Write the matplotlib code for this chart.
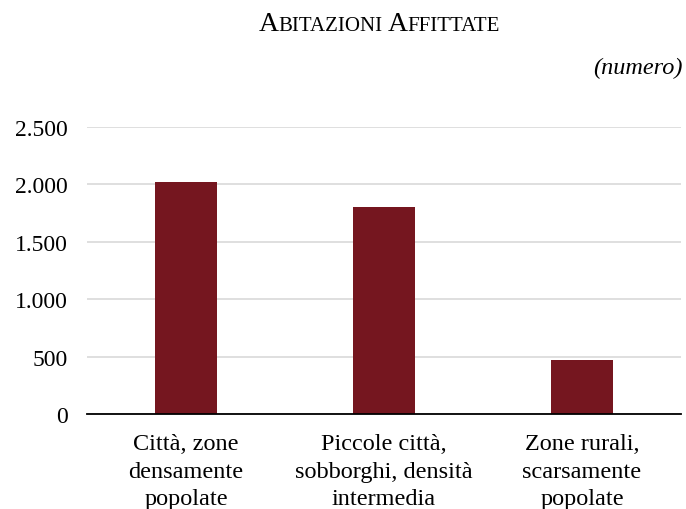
import matplotlib
matplotlib.use("Agg")
import matplotlib.pyplot as plt
from matplotlib.ticker import FuncFormatter

# dati
categorie = ["Città, zone\ndensamente\npopolate",
             "Piccole città,\nsobborghi, densità\nintermedia",
             "Zone rurali,\nscarsamente\npopolate"]
valori = [2021, 1803, 470]
tick_y = [0, 500, 1000, 1500, 2000, 2500]

plt.rcParams['font.family'] = ['Liberation Serif', 'DejaVu Serif']

fig = plt.figure(figsize=(6.86, 5.1), dpi=100)
ax = fig.add_axes([87 / 686, 95 / 510, 594 / 686, 287 / 510])

ax.bar(range(len(valori)), valori, width=0.31, color='#75161f', zorder=3)
ax.set_xlim(-0.5, 2.5)
ax.set_ylim(0, 2500)
ax.set_yticks(tick_y)
ax.yaxis.set_major_formatter(FuncFormatter(lambda v, p: f"{int(v):,}".replace(",", ".")))
ax.grid(axis='y', color='#d9d9d9', linewidth=1.2, zorder=0)
ax.set_xticks(range(len(categorie)))
ax.set_xticklabels(categorie, fontsize=17.5, linespacing=1.38)
ax.tick_params(axis='x', length=0, pad=14)
ax.tick_params(axis='y', length=0, pad=14, labelsize=17)
for s in ['top', 'right', 'left']:
    ax.spines[s].set_visible(False)
ax.spines['bottom'].set_color('black')
ax.spines['bottom'].set_linewidth(1.3)
ax.spines['bottom'].set_zorder(4)

# titolo in maiuscoletto
pezzi = [("A", 20), ("BITAZIONI", 15), (" ", 15), ("A", 20), ("FFITTATE", 15)]
renderer = fig.canvas.get_renderer()
testi = []
larghezze = []
for txt, sz in pezzi:
    t = fig.text(0, 0, txt, fontsize=sz, ha='left', va='baseline')
    testi.append(t)
    larghezze.append(t.get_window_extent(renderer).width)
larghezze[2] = 5
x = 379 - sum(larghezze) / 2
for t, w in zip(testi, larghezze):
    t.set_position((x / 686, 1 - 31 / 510))
    x += w

fig.text(683 / 686, 1 - 74 / 510, "(numero)", fontsize=17.5, style='italic',
         ha='right', va='baseline')

fig.savefig("out.png", dpi=100)
